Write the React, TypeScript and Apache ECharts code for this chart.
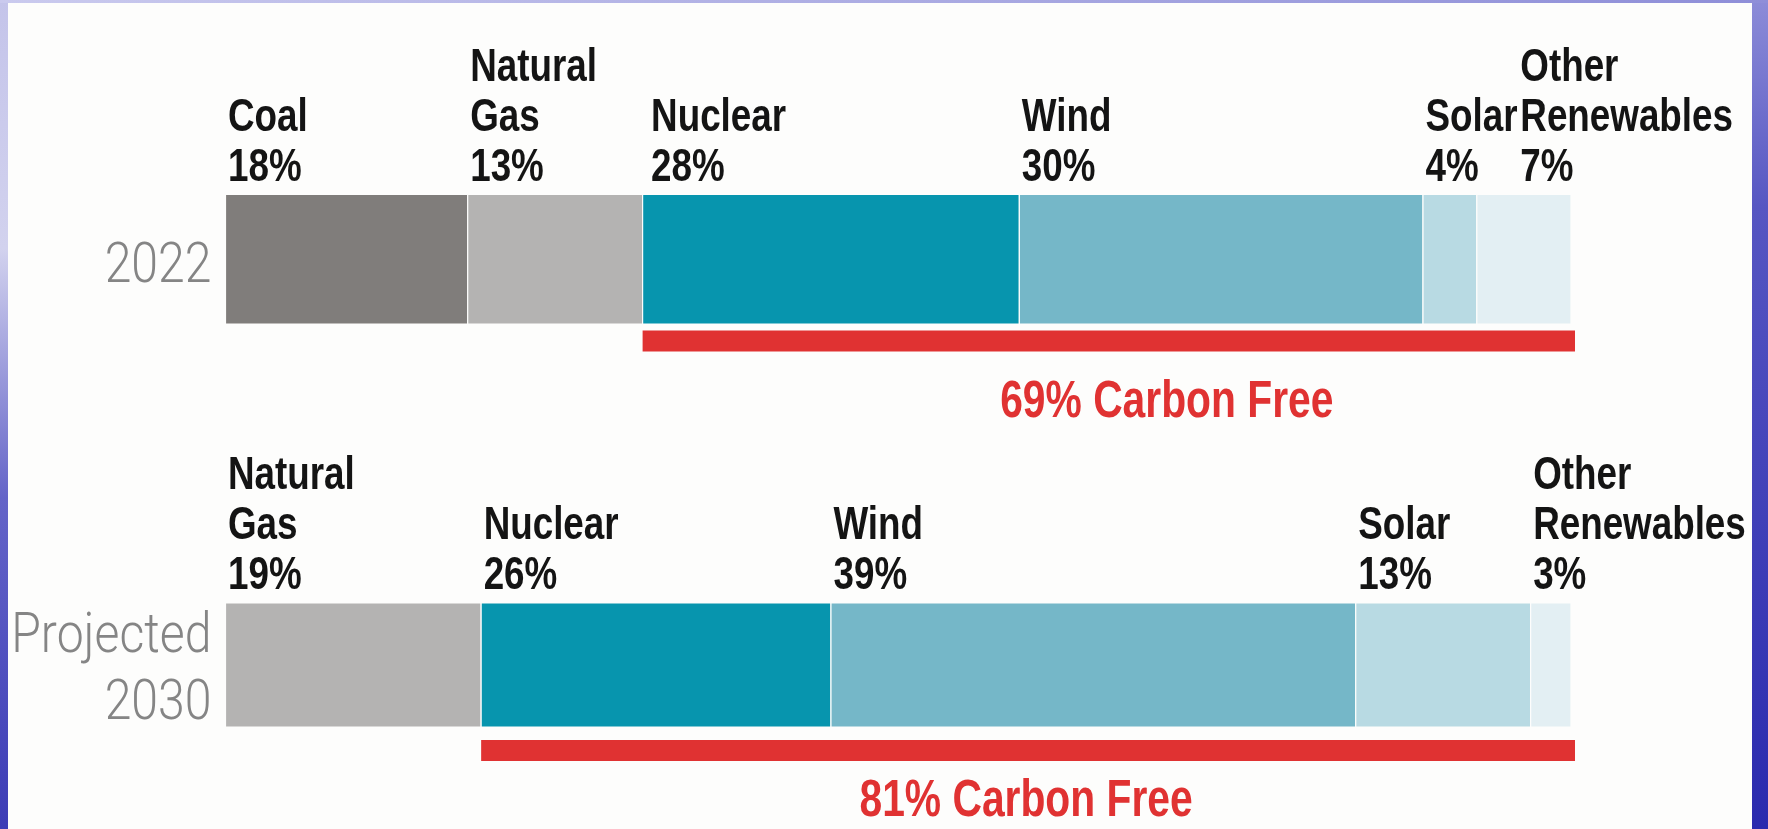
import React, { useEffect, useRef } from "react";
import * as echarts from "echarts";

const sources2022 = ["Coal", "Natural\nGas", "Nuclear", "Wind", "Solar", "Other\nRenewables"];
const shares2022 = [18, 13, 28, 30, 4, 7];
const sources2030 = ["Natural\nGas", "Nuclear", "Wind", "Solar", "Other\nRenewables"];
const shares2030 = [19, 26, 39, 13, 3];
const carbonFree2022 = 69;
const carbonFree2030 = 81;
const yearLabels = ["2022", "Projected\n2030"];

const colorOf: Record<string, string> = {
  "Coal": "#807d7b",
  "Natural\nGas": "#b4b3b2",
  "Nuclear": "#0795ae",
  "Wind": "#75b7c8",
  "Solar": "#b8dae3",
  "Other\nRenewables": "#e3eff3",
};

const BOLD_FONT = "'Liberation Sans', Arial, sans-serif";
const LIGHT_FONT = "Roboto, 'Liberation Sans', sans-serif";
const RED = "#e03232";

function cumulative(vals: number[]) {
  const out: number[] = [];
  let s = 0;
  for (const v of vals) { out.push(s); s += v; }
  return out;
}

export default function App() {
  const ref = useRef<HTMLDivElement>(null);
  useEffect(() => {
    if (!ref.current) return;
    const chart = echarts.init(ref.current, null, { renderer: "svg" });
    const L = 225.5;
    const R = 1768 - 1571;
    const grids = [
      { left: L, right: R, top: 194.5, height: 129.5, outerBoundsMode: "none" },
      { left: L, right: R, top: 330.5, height: 21, outerBoundsMode: "none" },
      { left: L, right: R, top: 603, height: 124, outerBoundsMode: "none" },
      { left: L, right: R, top: 740, height: 21, outerBoundsMode: "none" },
    ];
    const xAxes = grids.map((_, i) => ({ type: "value", gridIndex: i, min: 0, max: 100, show: false }));
    const yAxes = grids.map((_, i) => ({ type: "category", gridIndex: i, data: [String(i)], show: false }));

    const segmentSeries = (names: string[], vals: number[], gi: number, shifts: Record<number, number>) => {
      const starts = cumulative(vals);
      return {
        type: "custom",
        name: "sources-" + gi,
        xAxisIndex: gi,
        yAxisIndex: gi,
        encode: { x: [0, 1], y: 2 },
        data: vals.map((v, i) => [starts[i], starts[i] + v, 0]),
        renderItem: (params: any, api: any) => {
          const i = params.dataIndex;
          const cs = params.coordSys;
          const a = api.coord([api.value(0), 0]);
          const b = api.coord([api.value(1), 0]);
          return {
            type: "group",
            children: [
              {
                type: "rect",
                shape: { x: a[0], y: cs.y, width: b[0] - a[0], height: cs.height },
                style: { fill: colorOf[names[i]], stroke: "#fdfdfc", lineWidth: 1.2 },
              },
              {
                type: "text",
                x: a[0] + 2.5 + (shifts[i] || 0),
                y: cs.y - 5,
                scaleX: 0.8,
                style: {
                  text: `${names[i]}\n${vals[i]}%`,
                  fill: "#141414",
                  fontFamily: BOLD_FONT,
                  fontWeight: "bold",
                  fontSize: 46,
                  lineHeight: 50,
                  align: "left",
                  verticalAlign: "bottom",
                },
              },
            ],
          };
        },
      };
    };

    const redSeries = (cf: number, gi: number, textShift: number, textDist: number) => ({
      type: "custom",
      name: "carbon-free-" + gi,
      xAxisIndex: gi,
      yAxisIndex: gi,
      encode: { x: [0, 1], y: 2 },
      data: [[100 - cf, 100, 0]],
      renderItem: (params: any, api: any) => {
        const cs = params.coordSys;
        const a = api.coord([api.value(0), 0]);
        const b = api.coord([api.value(1), 0]);
        return {
          type: "group",
          children: [
            {
              type: "rect",
              shape: { x: a[0], y: cs.y, width: b[0] - a[0] + 4, height: cs.height },
              style: { fill: RED },
            },
            {
              type: "text",
              x: (a[0] + b[0]) / 2 + textShift,
              y: cs.y + cs.height + textDist,
              scaleX: 0.8,
              style: {
                text: `${cf}% Carbon Free`,
                fill: RED,
                fontFamily: BOLD_FONT,
                fontWeight: "bold",
                fontSize: 51,
                align: "center",
                verticalAlign: "middle",
              },
            },
          ],
        };
      },
    });

    const yearSeries = (label: string, gi: number, dy: number) => ({
      type: "custom",
      name: "year-" + gi,
      xAxisIndex: gi,
      yAxisIndex: gi,
      encode: { x: 0, y: 1 },
      data: [[0, 0]],
      renderItem: (params: any, api: any) => {
        const p = api.coord([api.value(0), 0]);
        return {
          type: "text",
          x: p[0] - 14,
          y: p[1] + dy,
          scaleX: 0.86,
          style: {
            text: label,
            fill: "#858585",
            fontFamily: LIGHT_FONT,
            fontWeight: 300,
            fontSize: 56,
            lineHeight: 67,
            align: "right",
            verticalAlign: "middle",
          },
        };
      },
    });

    const bgGrad = new echarts.graphic.LinearGradient(0, 0, 0, 829, [
      { offset: 0, color: "#c4c4ea" },
      { offset: 0.3, color: "#d2d2ee" },
      { offset: 0.6, color: "#6464c8" },
      { offset: 1, color: "#3c3cb6" },
    ], true);
    const rightGrad = new echarts.graphic.LinearGradient(0, 0, 0, 829, [
      { offset: 0, color: "#8c8cd8" },
      { offset: 0.25, color: "#5656c2" },
      { offset: 1, color: "#2a2aae" },
    ], true);
    const topGrad = new echarts.graphic.LinearGradient(0, 0, 1768, 0, [
      { offset: 0, color: "#cacaee" },
      { offset: 1, color: "#8e8ed8" },
    ], true);

    const option = {
      animation: false,
      graphic: [
        { type: "rect", z: -30, silent: true, shape: { x: 0, y: 0, width: 1768, height: 829 }, style: { fill: bgGrad } },
        { type: "rect", z: -20, silent: true, shape: { x: 8, y: 3, width: 1744, height: 830 }, style: { fill: "#fdfdfc" } },
        { type: "rect", z: 100, silent: true, shape: { x: 1752, y: 0, width: 16, height: 829 }, style: { fill: rightGrad } },
        { type: "rect", z: 100, silent: true, shape: { x: 0, y: 0, width: 1768, height: 3 }, style: { fill: topGrad } },
      ],
      grid: grids,
      xAxis: xAxes,
      yAxis: yAxes,
      series: [
        segmentSeries(sources2022, shares2022, 0, { 2: 6, 5: 41 }),
        redSeries(carbonFree2022, 1, 60, 48),
        segmentSeries(sources2030, shares2030, 2, {}),
        redSeries(carbonFree2030, 3, 0, 37),
        yearSeries(yearLabels[0], 0, 4),
        yearSeries(yearLabels[1], 2, 2),
      ],
    };
    chart.setOption(option as any);
    return () => chart.dispose();
  }, []);
  return (
    <div
      ref={ref}
      style={{ position: "fixed", left: 0, top: 0, width: 1768, height: 829 }}
    />
  );
}
